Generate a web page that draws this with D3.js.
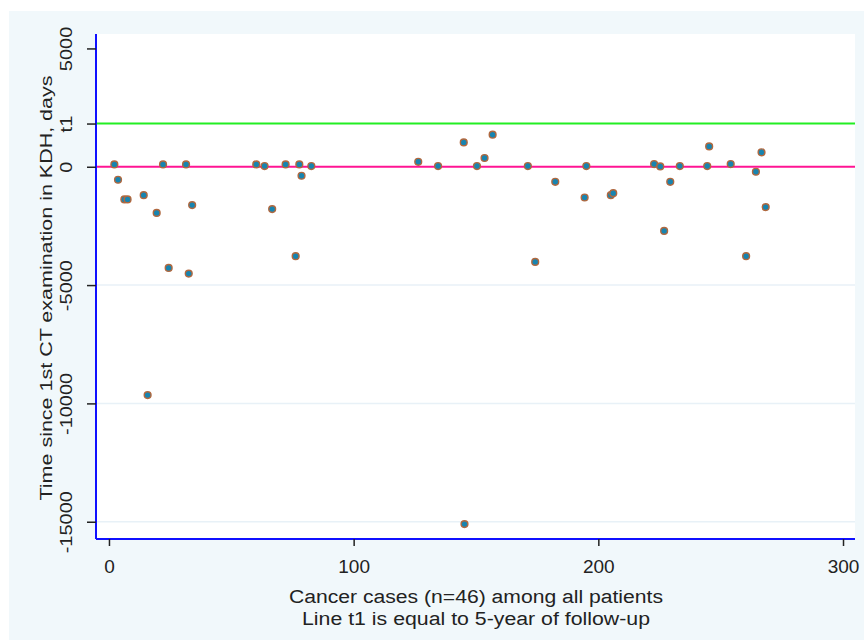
<!DOCTYPE html>
<html>
<head>
<meta charset="utf-8">
<script src="https://cdn.jsdelivr.net/npm/d3@7"></script>
<style>
  html, body { margin: 0; padding: 0; background: #ffffff; }
  svg { display: block; font-family: "Liberation Sans", Arial, sans-serif; }
</style>
</head>
<body>
<div id="chart"></div>
<script>
// Case number (x) and days since first CT examination (y), 46 cancer cases
const caseNumber = [
  2.2, 3.7, 6.3, 7.6, 14.2, 15.8, 19.5, 22.1, 24.4, 31.5, 32.6, 34.0,
  60.2, 63.6, 66.7, 72.2, 76.3, 77.8, 78.7, 82.7,
  126.4, 134.5, 145.0, 145.3, 150.4, 153.5, 156.8, 171.2, 174.2, 182.4, 194.4, 195.1,
  205.1, 206.1, 222.8, 225.3, 226.9, 229.4, 233.3, 244.5, 245.3, 254.1, 260.4, 264.4, 266.7, 268.4
];
const daysSinceCT = [
  100, -550, -1380, -1380, -1200, -9650, -1950, 100, -4275, 100, -4515, -1620,
  100, 30, -1790, 100, -3780, 100, -380, 30,
  210, 30, 1030, -15100, 30, 370, 1355, 30, -4020, -635, -1300, 30,
  -1200, -1115, 115, 15, -2710, -635, 30, 30, 860, 115, -3780, -210, 610, -1705
];

const t1Days = 1826; // 5 years of follow-up
const yTickValues = [5000, t1Days, 0, -5000, -10000, -15000];
const yTickLabels = ['5000', 't1', '0', '-5000', '-10000', '-15000'];
const yGridValues = [-5000, -10000, -15000];
const xTickValues = [0, 100, 200, 300];
const xTitleLines = ['Cancer cases (n=46) among all patients', 'Line t1 is equal to 5-year of follow-up'];
const yTitle = 'Time since 1st CT examination in KDH, days';

const width = 864, height = 640;
const plot = { left: 96, right: 855, top: 34, bottom: 539 };

const xScale = d3.scaleLinear().domain([-5.3, 304.9]).range([plot.left, plot.right]);
const yScale = d3.scaleLinear().domain([-15730, 5610]).range([plot.bottom, plot.top]);

const svg = d3.select('#chart')
  .append('svg')
  .attr('width', width)
  .attr('height', height);

// Outer graph region and white plot region
svg.append('rect')
  .attr('x', 9).attr('y', 11)
  .attr('width', width - 9).attr('height', height - 11)
  .attr('fill', '#f1f8fb');

svg.append('rect')
  .attr('x', plot.left).attr('y', plot.top)
  .attr('width', plot.right - plot.left).attr('height', plot.bottom - plot.top)
  .attr('fill', '#ffffff');

// Faint gridlines
svg.append('g')
  .selectAll('line')
  .data(yGridValues)
  .join('line')
  .attr('x1', plot.left).attr('x2', plot.right)
  .attr('y1', d => yScale(d)).attr('y2', d => yScale(d))
  .attr('stroke', '#e8f1f7')
  .attr('stroke-width', 1.5);

// Reference lines: t1 and zero
svg.append('line')
  .attr('x1', plot.left).attr('x2', plot.right)
  .attr('y1', yScale(t1Days)).attr('y2', yScale(t1Days))
  .attr('stroke', '#22ee22')
  .attr('stroke-width', 2);

svg.append('line')
  .attr('x1', plot.left).attr('x2', plot.right)
  .attr('y1', yScale(0)).attr('y2', yScale(0))
  .attr('stroke', '#ff1493')
  .attr('stroke-width', 2);

// Y axis
const yAxis = svg.append('g')
  .attr('transform', `translate(${plot.left},0)`)
  .call(d3.axisLeft(yScale)
    .tickValues(yTickValues)
    .tickSize(9)
    .tickFormat((d, i) => yTickLabels[i]));

yAxis.select('.domain')
  .attr('d', `M0,${plot.top}V${plot.bottom}`)
  .attr('stroke', '#1010ff')
  .attr('stroke-width', 2);
yAxis.selectAll('.tick line').attr('stroke', '#222').attr('stroke-width', 1.5);
yAxis.selectAll('.tick text')
  .attr('x', null).attr('dy', null)
  .attr('text-anchor', 'middle')
  .attr('fill', '#222')
  .style('font-size', '20px')
  .attr('transform', 'translate(-24,0) rotate(-90) scale(1,0.8)');

// X axis
const xAxis = svg.append('g')
  .attr('transform', `translate(0,${plot.bottom})`)
  .call(d3.axisBottom(xScale).tickValues(xTickValues).tickSize(7));

xAxis.select('.domain')
  .attr('d', `M${plot.left},0H${plot.right}`)
  .attr('stroke', '#1010ff')
  .attr('stroke-width', 2);
xAxis.selectAll('.tick line').attr('stroke', '#222').attr('stroke-width', 1.5);
xAxis.selectAll('.tick text')
  .attr('y', 34).attr('dy', null)
  .attr('fill', '#222')
  .style('font-size', '19px');

// Points
svg.append('g')
  .selectAll('circle')
  .data(caseNumber.map((x, i) => ({ x, y: daysSinceCT[i] })))
  .join('circle')
  .attr('cx', d => xScale(d.x))
  .attr('cy', d => yScale(d.y))
  .attr('r', 3.4)
  .attr('fill', '#1784b0')
  .attr('stroke', '#b0683f')
  .attr('stroke-width', 1.4);

// Axis titles
svg.append('g')
  .selectAll('text')
  .data(xTitleLines)
  .join('text')
  .attr('x', 476)
  .attr('y', (d, i) => 603 + i * 22)
  .attr('text-anchor', 'middle')
  .attr('fill', '#222')
  .style('font-size', '18px')
  .attr('textLength', (d, i) => i === 0 ? 374 : 348)
  .attr('lengthAdjust', 'spacingAndGlyphs')
  .text(d => d);

svg.append('text')
  .attr('transform', `translate(52,288) rotate(-90)`)
  .attr('text-anchor', 'middle')
  .attr('fill', '#222')
  .style('font-size', '17px')
  .attr('textLength', 425)
  .attr('lengthAdjust', 'spacingAndGlyphs')
  .text(yTitle);
</script>
</body>
</html>
